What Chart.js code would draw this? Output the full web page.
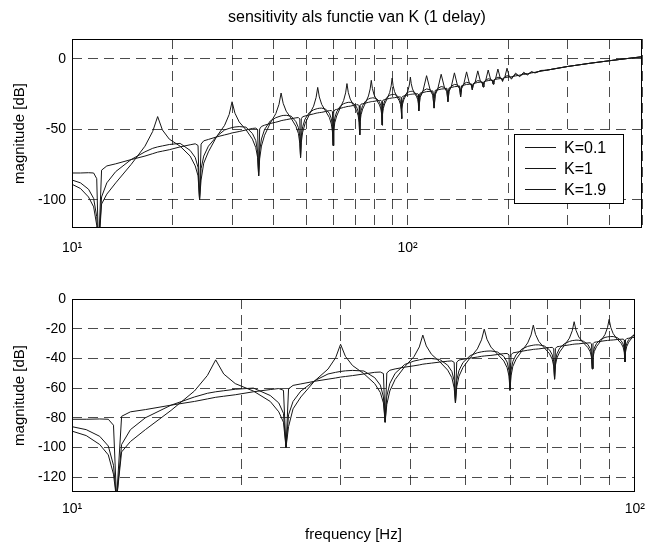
<!DOCTYPE html>
<html>
<head>
<meta charset="utf-8">
<script src="https://cdn.jsdelivr.net/npm/chart.js@4.4.1/dist/chart.umd.min.js"></script>
<style>
  html, body { margin:0; padding:0; background:#fff; }
  #wrap { position:relative; width:654px; height:549px; }
  canvas { position:absolute; left:0; }
  #bovenGrafiek { top:0; }
  #onderGrafiek { top:270px; }
</style>
</head>
<body>
<div id="wrap">
  <canvas id="bovenGrafiek" width="654" height="270"></canvas>
  <canvas id="onderGrafiek" width="654" height="279"></canvas>
</div>
<script>
// frequenties [Hz], zelfde punten voor alle drie de krommen
var frequenties = [
  10, 10.6, 11.2, 11.6, 11.85,
  12, 12.25, 12.7, 13.5, 15, 16.5, 17.4, 18, 18.6, 19.5, 21, 22.5, 23.3, 23.75,
  24, 24.25, 24.7, 25.5, 27, 28.5, 29.4, 30, 30.6, 31.5, 33, 34.5, 35.3, 35.75,
  36, 36.25, 36.7, 37.5, 39, 40.5, 41.4, 42, 42.6, 43.5, 45, 46.5, 47.3, 47.75,
  48, 48.25, 48.7, 49.5, 51, 52.5, 53.4, 54, 54.6, 55.5, 57, 58.5, 59.3, 59.75,
  60, 60.25, 60.7, 61.5, 63, 64.5, 65.4, 66, 66.6, 67.5, 69, 70.5, 71.3, 71.75,
  72, 72.25, 72.7, 73.5, 75, 76.5, 77.4, 78, 78.6, 79.5, 81, 82.5, 83.3, 83.75,
  84, 84.25, 84.7, 85.5, 87, 88.5, 89.4, 90, 90.6, 91.5, 93, 94.5, 95.3, 95.75,
  96, 96.25, 96.7, 97.5, 99, 100.5, 101.4, 102, 102.6, 103.5, 105, 106.5, 107.3, 107.75,
  108, 109, 111, 114, 117, 119,
  120, 121, 123, 126, 129, 131,
  132, 133, 135, 138, 141, 143,
  144, 145, 147, 150, 153, 155,
  156, 157, 159, 162, 165, 167,
  168, 169, 171, 174, 177, 179,
  180, 181, 183, 186, 189, 191,
  192, 193, 195, 198, 201, 203,
  204, 210, 216, 222, 228, 234, 240, 250, 260, 300, 350, 400, 450, 500
];

// magnitude [dB] voor K=0.1
var magK01 = [
  -81, -81, -80.8, -81, -85,
  -135, -79, -76, -74.5, -71.5, -69, -67.3, -66.2, -65.5, -64.5, -62.5, -61, -60.3, -61.5,
  -100, -60.5, -58.2, -57.2, -55.4, -54, -53.2, -52.6, -52.2, -51.6, -50.5, -49.4, -49.2, -50.2,
  -83, -49.8, -48, -47.1, -45.9, -45, -44.4, -43.9, -43.6, -43.2, -42.5, -41.9, -41.7, -42.7,
  -70, -42.5, -41.1, -40.6, -39.8, -39.1, -38.6, -38.4, -38.2, -38, -37.4, -36.8, -36.7, -37.6,
  -61.5, -37.6, -36.3, -35.9, -35.2, -34.5, -34.2, -33.9, -33.8, -33.6, -33.1, -32.7, -32.6, -33.4,
  -54, -33.3, -32.2, -31.9, -31.4, -30.9, -30.6, -30.4, -30.3, -30.2, -29.8, -29.6, -29.5, -30.2,
  -47, -30.1, -29.2, -28.9, -28.5, -28.1, -27.9, -27.8, -27.7, -27.6, -27.3, -27.1, -27, -27.6,
  -42.4, -27.5, -26.7, -26.4, -26, -25.6, -25.4, -25.3, -25.2, -25.1, -24.9, -24.8, -24.8, -25.2,
  -30, -24.4, -24, -23.3, -23.1, -22.8,
  -28, -22.4, -22.1, -21.5, -21.3, -20.9,
  -25.5, -20.7, -20.4, -19.8, -19.6, -19.3,
  -23.5, -19.1, -18.8, -18.2, -18.1, -17.8,
  -20, -17.6, -17.3, -16.8, -16.6, -16.4,
  -18, -16.2, -15.9, -15.5, -15.3, -15.1,
  -16.5, -14.9, -14.6, -14.3, -14.1, -13.9,
  -15, -13.7, -13.5, -13.1, -13, -12.8,
  -12.7, -12.2, -11.6, -11.1, -10.6, -10.1, -9.6, -8.8, -8.1, -5.5, -3.2, -1.4, 0.1, 1.4
];

// magnitude [dB] voor K=1
var magK1 = [
  -86, -88, -92.5, -99, -112,
  -135, -98, -88, -80, -71.5, -66, -63.5, -62.5, -61.8, -60.8, -60, -65, -70, -77,
  -100, -78, -69, -62, -55, -50.5, -49.4, -48.8, -48.4, -48.1, -48.5, -53, -58, -66,
  -83, -65.4, -56.9, -50.1, -44.1, -41.8, -41, -40.5, -40.2, -40.1, -40.7, -44.6, -48.8, -55,
  -70, -54.8, -48.2, -42.8, -38.1, -36.2, -35.6, -35.3, -35.1, -35, -35.7, -38.7, -42.5, -48.1,
  -61.5, -48, -42.1, -37.6, -33.7, -31.9, -31.4, -31.1, -30.9, -30.9, -31.6, -34.2, -37.5, -42.2,
  -54, -41.8, -36.9, -33.1, -30, -28.6, -28, -27.9, -27.7, -27.8, -28.4, -30.6, -33.3, -37.1,
  -47, -37, -33, -29.9, -27.2, -25.9, -25.5, -25.4, -25.3, -25.3, -26, -28, -30.3, -33.7,
  -42.4, -33.6, -30, -27.3, -24.9, -23.7, -23.3, -23.2, -23.1, -23.1, -23.8, -25.5, -27.4, -30.1,
  -37, -26.3, -22.9, -21.4, -22, -24.7,
  -35, -24.3, -21.1, -19.7, -20.3, -22.3,
  -30.5, -22.1, -19.5, -18.2, -18.6, -20.5,
  -27, -20.3, -17.9, -16.7, -17.2, -18.5,
  -22, -18.3, -16.5, -15.5, -15.9, -16.9,
  -20, -16.7, -15.2, -14.2, -14.6, -15.6,
  -18, -15.4, -13.9, -13.1, -13.4, -14.2,
  -16, -14, -12.9, -12, -12.4, -13.1,
  -13.7, -11.2, -12.2, -10.4, -11, -9.6, -9.8, -8.6, -8.1, -5.5, -3.2, -1.4, 0.1, 1.4
];

// magnitude [dB] voor K=1.9
var magK19 = [
  -89, -92, -98, -105, -118,
  -135, -103, -96, -88, -75, -62, -51.5, -41, -50.5, -57, -62, -69, -76, -83,
  -100, -86, -74, -66, -55.1, -47.2, -39.6, -30.5, -38.6, -44.8, -50.3, -57, -63, -70,
  -83, -71, -61.9, -54.2, -45.6, -38.9, -32.3, -24.3, -31.6, -37.2, -42.2, -47.9, -53, -59.9,
  -70, -59.2, -52, -46.1, -39.5, -33.6, -27.5, -20.3, -27.1, -32.4, -37.1, -41.7, -46.3, -51.9,
  -61.5, -51.8, -45.4, -40.6, -34.9, -29.6, -24.2, -17.6, -23.8, -28.6, -32.8, -36.8, -40.5, -45.2,
  -54, -44.6, -39.7, -35.7, -31.1, -26.4, -21.4, -15.3, -21.1, -25.6, -29.5, -32.7, -35.6, -39.4,
  -47, -39.3, -35.3, -32, -28.2, -23.9, -19.3, -13.7, -19.1, -23.3, -27, -29.8, -32.4, -35.8,
  -42.4, -35.7, -32.1, -29.1, -25.7, -22, -17.9, -13, -17.7, -21.4, -24.6, -27, -29, -31.7,
  -37, -27.5, -23.6, -12, -22.7, -25.9,
  -35, -25.5, -21.7, -11, -20.9, -23.3,
  -30.5, -23.1, -20, -10, -19.2, -21.3,
  -27, -21.1, -18.4, -9.3, -17.7, -18.9,
  -22, -18.7, -16.9, -8.6, -16.2, -17.3,
  -20, -17.1, -15.5, -8, -14.9, -15.9,
  -18, -15.7, -14.2, -7.3, -13.7, -14.4,
  -16, -14.2, -13.1, -6.7, -12.6, -13.5,
  -14.5, -10.2, -12.8, -9.6, -11.5, -9.1, -10.1, -8.3, -8.1, -5.5, -3.2, -1.4, 0.1, 1.4
];

var reeksNamen = ['K=0.1', 'K=1', 'K=1.9'];

var titel = 'sensitivity als functie van K (1 delay)';
var yTitel = 'magnitude [dB]';
var xTitel = 'frequency [Hz]';

var xGridBoven = [10, 20, 30, 40, 50, 60, 70, 80, 90, 100, 200, 300, 400, 500];
var xGridOnder = [10, 20, 30, 40, 50, 60, 70, 80, 90, 100];
var xLabelWaarden = [10, 100];
var xLabelTeksten = ['10\u00b9', '10\u00b2'];
var yGridBoven = [-100, -50, 0];
var yGridOnder = [-120, -100, -80, -60, -40, -20, 0];

var lijnKleur = '#161616';
var gridKleur = 'rgba(0,0,0,0.7)';
var lettertype = '"Liberation Sans", Arial, sans-serif';

function maakDatasets(){
    var reeksen = [magK01, magK1, magK19];
    return reeksen.map(function(mag, r){
        return {
            label: reeksNamen[r],
            data: frequenties.map(function(f, i){ return {x: f, y: mag[i]}; }),
            borderColor: lijnKleur,
            borderWidth: 1,
            pointRadius: 0,
            tension: 0,
            fill: false
        };
    });
}

// kader rond de assen en legenda binnen de bovenste grafiek
var kaderPlugin = {
    id: 'kader',
    afterDatasetsDraw: function(chart, args, opts){
        var ctx = chart.ctx, ca = chart.chartArea;
        ctx.save();
        ctx.strokeStyle = '#000';
        ctx.lineWidth = 1;
        ctx.strokeRect(Math.round(ca.left) + 0.5, Math.round(ca.top) + 0.5,
            Math.round(ca.right - ca.left) - 1, Math.round(ca.bottom - ca.top) - 1);
        if (opts.legende) {
            var lx = Math.round(ca.right) - 128, ly = Math.round(ca.top) + 95;
            ctx.fillStyle = '#fff';
            ctx.fillRect(lx, ly, 109, 69);
            ctx.strokeRect(lx + 0.5, ly + 0.5, 109, 69);
            ctx.font = '16px ' + lettertype;
            ctx.textBaseline = 'middle';
            ctx.textAlign = 'left';
            chart.data.datasets.forEach(function(ds, i){
                var y = ly + 13.5 + 21 * i;
                ctx.beginPath();
                ctx.moveTo(lx + 11, y);
                ctx.lineTo(lx + 42, y);
                ctx.strokeStyle = ds.borderColor;
                ctx.stroke();
                ctx.fillStyle = '#000';
                ctx.fillText(ds.label, lx + 50, y + 1);
            });
        }
        ctx.restore();
    }
};

function maakGrafiek(id, inst){
    return new Chart(document.getElementById(id), {
        type: 'line',
        data: { datasets: maakDatasets() },
        options: {
            responsive: false,
            animation: false,
            devicePixelRatio: 1,
            layout: { padding: { left: 0, right: 11, top: inst.padTop, bottom: 0 } },
            plugins: {
                legend: { display: false },
                tooltip: { enabled: false },
                title: {
                    display: inst.titel !== '',
                    text: inst.titel,
                    fullSize: false,
                    color: '#000',
                    font: { family: lettertype, size: 16, weight: 'normal', lineHeight: 1.25 },
                    padding: { top: 8, bottom: 11 }
                },
                kader: { legende: inst.legende }
            },
            scales: {
                x: {
                    type: 'logarithmic',
                    min: 10,
                    max: inst.xMax,
                    afterBuildTicks: function(axis){
                        axis.ticks = inst.xGrid.map(function(v){ return {value: v}; });
                    },
                    afterFit: function(axis){ axis.height = inst.xHoogte; },
                    grid: { color: gridKleur, drawTicks: false },
                    border: { display: false, dash: [10, 6] },
                    ticks: {
                        autoSkip: false,
                        maxRotation: 0,
                        padding: inst.xPad,
                        color: '#000',
                        font: { family: lettertype, size: 14 },
                        callback: function(v){
                            var i = xLabelWaarden.indexOf(v);
                            return i < 0 ? '' : xLabelTeksten[i];
                        }
                    },
                    title: {
                        display: inst.xTitel !== '',
                        text: inst.xTitel,
                        color: '#000',
                        font: { family: lettertype, size: 15 },
                        padding: { top: 0, bottom: 5 }
                    }
                },
                y: {
                    min: inst.yMin,
                    max: inst.yMax,
                    afterBuildTicks: function(axis){
                        axis.ticks = inst.yGrid.map(function(v){ return {value: v}; });
                    },
                    afterFit: function(axis){ axis.width = 72; },
                    grid: { color: gridKleur, drawTicks: false },
                    border: { display: false, dash: [10, 6] },
                    ticks: {
                        padding: 6,
                        color: '#000',
                        font: { family: lettertype, size: 14 },
                        callback: function(v){ return String(v); }
                    },
                    title: {
                        display: true,
                        text: yTitel,
                        color: '#000',
                        font: { family: lettertype, size: 15 },
                        padding: { top: 11, bottom: 0 }
                    }
                }
            }
        },
        plugins: [kaderPlugin]
    });
}

maakGrafiek('bovenGrafiek', {
    titel: titel, xTitel: '', legende: true,
    padTop: 0, xMax: 500, xGrid: xGridBoven, xHoogte: 42, xPad: 12,
    yMin: -120, yMax: 14, yGrid: yGridBoven
});

maakGrafiek('onderGrafiek', {
    titel: '', xTitel: xTitel, legende: false,
    padTop: 29, xMax: 100, xGrid: xGridOnder, xHoogte: 57, xPad: 9,
    yMin: -130, yMax: 0, yGrid: yGridOnder
});
</script>
</body>
</html>
